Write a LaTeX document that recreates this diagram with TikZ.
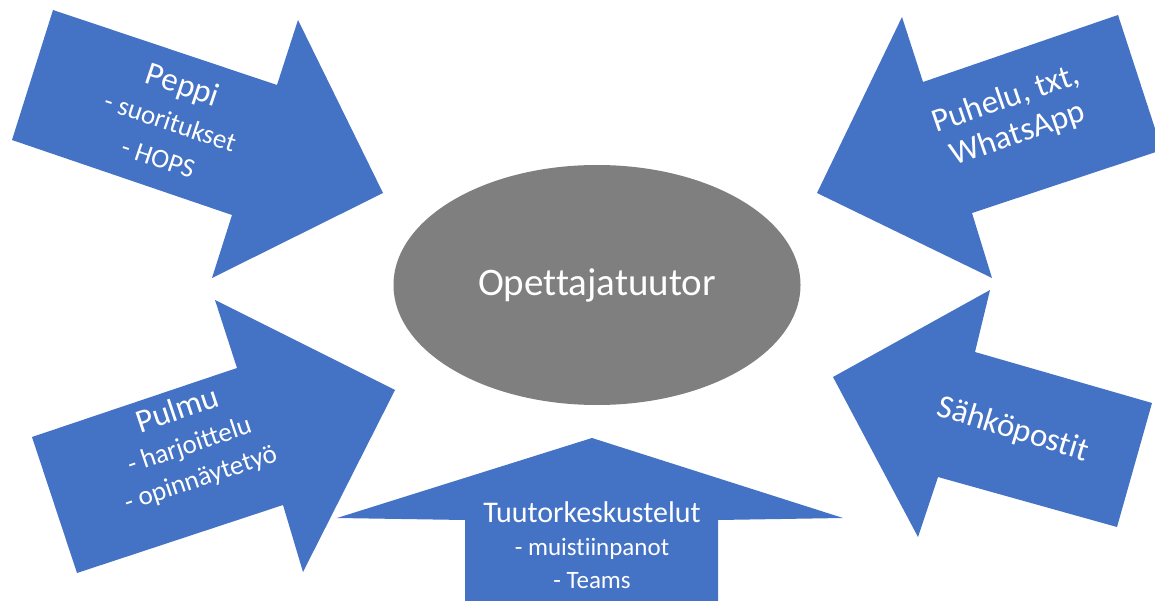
\documentclass[tikz,border=0pt]{standalone}
\usepackage{fontspec}
\setmainfont{Carlito}[Ligatures=NoCommon]
\usetikzlibrary{shapes.geometric}

\definecolor{arrowblue}{HTML}{4472C4}
\definecolor{hubgray}{HTML}{7F7F7F}

\tikzset{
    blockarrow/.style={fill=arrowblue, draw=none},
    arrowtext/.style={text=white, align=center, inner sep=0pt},
    bigline/.style={font=\fontsize{33}{37}\selectfont}
}
\newcommand{\headline}[1]{{\fontsize{33}{37}\selectfont #1}}

\begin{document}
\begin{tikzpicture}[x=1pt,y=-1pt]
    \useasboundingbox (0,0) rectangle (1155,601);
    \fill[white] (0,0) rectangle (1155,601);

    % centre
    \node[ellipse, fill=hubgray, minimum width=407pt, minimum height=240pt,
        text=white, font=\fontsize{39}{44}\selectfont] (tutor) at (597,285) {Opettajatuutor};

    % arrows
    \fill[blockarrow] (53,10) -- (277,85) -- (298,20) -- (383,193)
        -- (212,278) -- (232,215) -- (12,140) -- cycle;
    \fill[blockarrow] (1118,15) -- (1162,150) -- (972,213) -- (992,278)
        -- (817,193) -- (902,17) -- (923,82) -- cycle;
    \fill[blockarrow] (32,437) -- (237,368) -- (215,300) -- (395,390)
        -- (303,572) -- (283,505) -- (77,573) -- cycle;
    \fill[blockarrow] (990,290) -- (975,352) -- (1152,403) -- (1117,527)
        -- (938,477) -- (918,537) -- (833,377) -- cycle;
    \fill[blockarrow] (592,438) -- (843,518) -- (718,520) -- (718,610)
        -- (465,610) -- (465,520) -- (337,518) -- cycle;

    % texts
    \node[arrowtext, rotate=-18.5, font=\fontsize{27}{38}\selectfont] (peppi) at (171,120)
        {\headline{Peppi}\\- suoritukset\\- HOPS};
    \node[arrowtext, rotate=19, bigline] (puhelu) at (1012,117)
        {Puhelu, txt,\\WhatsApp};
    \node[arrowtext, rotate=18.6, font=\fontsize{27}{35}\selectfont] (pulmu) at (189,444)
        {\headline{Pulmu}\\- harjoittelu\\- opinnäytetyö};
    \node[arrowtext, rotate=-17, bigline] (sahko) at (1013,430) {Sähköpostit};
    \node[arrowtext, font=\fontsize{25}{33}\selectfont] (tuutor) at (592,545)
        {{\fontsize{30}{34}\selectfont Tuutorkeskustelut}\\- muistiinpanot\\- Teams};
\end{tikzpicture}
\end{document}
